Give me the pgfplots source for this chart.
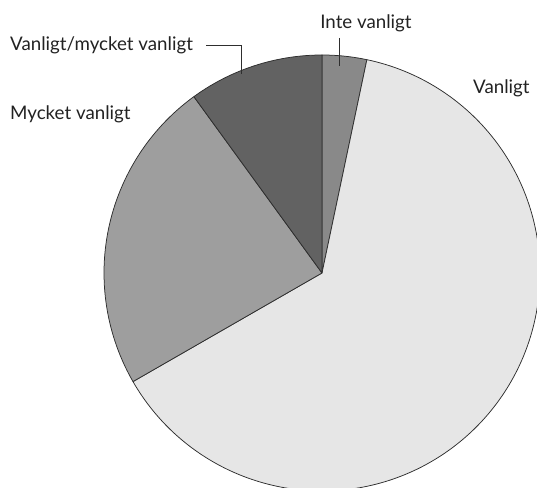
\documentclass[border=0pt]{standalone}
\usepackage{pgfplots}
\pgfplotsset{compat=1.18}
\usepackage{fontspec}
\setmainfont{Lato}
\definecolor{cInte}{HTML}{898989}
\definecolor{cVanl}{HTML}{E6E6E6}
\definecolor{cMyck}{HTML}{9E9E9E}
\definecolor{cVM}{HTML}{626262}
\definecolor{edge}{HTML}{2E2E2E}
\definecolor{txt}{HTML}{222222}
\begin{document}
\begin{tikzpicture}
% shares (percent), clockwise from the top
\def\vInte{3.3}
\def\vVanl{63.4}
\def\vMyck{23.3}
\def\vVM{10.0}
\pgfmathsetmacro\aA{90}
\pgfmathsetmacro\aB{\aA-3.6*\vInte}
\pgfmathsetmacro\aC{\aB-3.6*\vVanl}
\pgfmathsetmacro\aD{\aC-3.6*\vMyck}
\pgfmathsetmacro\aE{\aD-3.6*\vVM}
\def\cx{322}\def\cy{215}\def\R{218}
\begin{axis}[name=ax, scale only axis, width=537bp, height=488bp,
  xmin=0, xmax=537, ymin=0, ymax=488, hide axis, clip=true,
  every axis plot/.append style={draw=edge, line width=0.75bp, line join=round}]
\addplot[fill=cInte, domain=\aB:\aA, samples=20, variable=\t]
  ({\cx+\R*cos(\t)},{\cy+\R*sin(\t)}) -- (axis cs:\cx,\cy) -- cycle;
\addplot[fill=cVanl, domain=\aC:\aB, samples=200, variable=\t]
  ({\cx+\R*cos(\t)},{\cy+\R*sin(\t)}) -- (axis cs:\cx,\cy) -- cycle;
\addplot[fill=cMyck, domain=\aD:\aC, samples=80, variable=\t]
  ({\cx+\R*cos(\t)},{\cy+\R*sin(\t)}) -- (axis cs:\cx,\cy) -- cycle;
\addplot[fill=cVM, domain=\aE:\aD, samples=40, variable=\t]
  ({\cx+\R*cos(\t)},{\cy+\R*sin(\t)}) -- (axis cs:\cx,\cy) -- cycle;
\draw[edge, line width=0.75bp] (axis cs:339,450) -- (axis cs:339,422);
\draw[edge, line width=0.75bp] (axis cs:206,443) -- (axis cs:241,443) -- (axis cs:241,414);
\node[anchor=base, font=\fontsize{18.8}{22}\selectfont, text=txt, inner sep=0pt] at (axis cs:366,459) {Inte vanligt};
\node[anchor=base west, font=\fontsize{18.8}{22}\selectfont, text=txt, inner sep=0pt] at (axis cs:10,437) {Vanligt/mycket vanligt};
\node[anchor=base west, font=\fontsize{18.8}{22}\selectfont, text=txt, inner sep=0pt] at (axis cs:10,368) {Mycket vanligt};
\node[anchor=base west, font=\fontsize{18.8}{22}\selectfont, text=txt, inner sep=0pt] at (axis cs:473,394) {Vanligt};
\end{axis}
\pgfresetboundingbox
\path (ax.south west) rectangle (ax.north east);
\end{tikzpicture}
\end{document}
